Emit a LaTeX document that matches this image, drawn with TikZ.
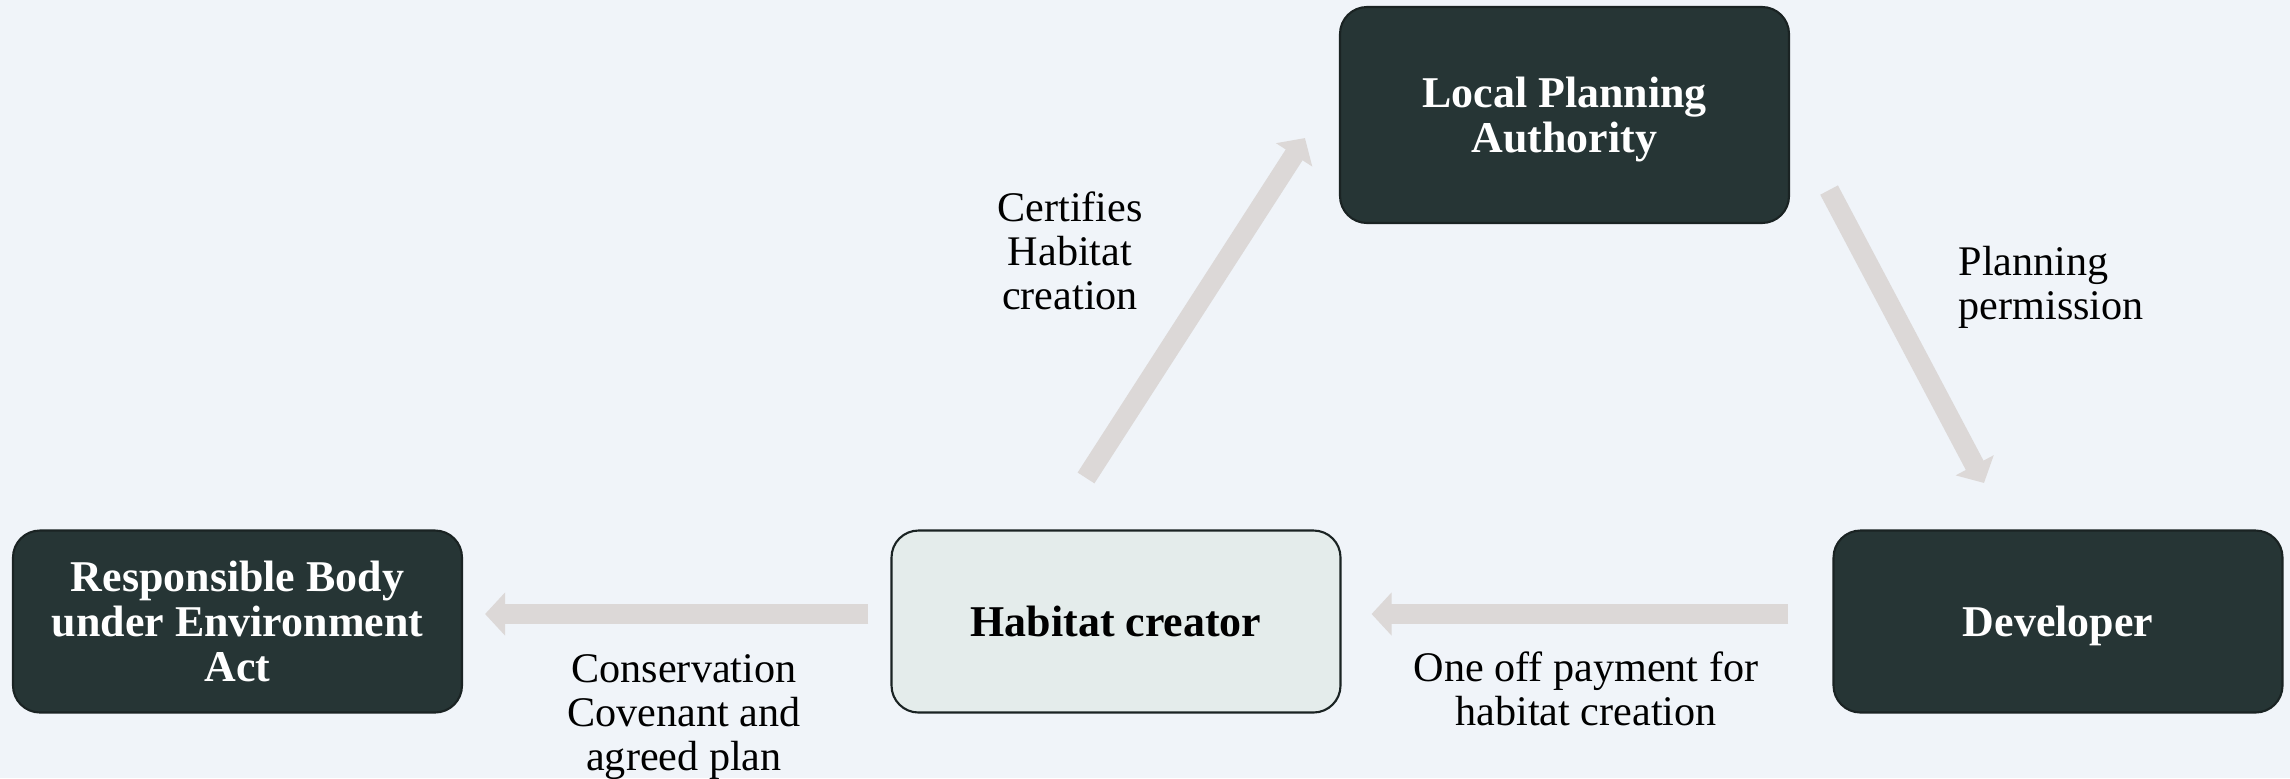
\documentclass[tikz,border=0pt]{standalone}
\usepackage{fontspec}
\setmainfont{Liberation Serif}
\usetikzlibrary{arrows.meta}
\definecolor{bgcol}{HTML}{F0F4F9}
\definecolor{darkbox}{HTML}{263535}
\definecolor{lightbox}{HTML}{E4ECEB}
\definecolor{flowgray}{HTML}{DCD8D7}
\definecolor{edgecol}{HTML}{1A2323}
\begin{document}
\begin{tikzpicture}[>={Triangle[length=2mm 0 0, width=4.2mm 0 0]}, block/.style={draw=edgecol, line width=0.6pt, rounded corners=0.27cm, rectangle, minimum width=4.49cm, minimum height=1.82cm, align=center, font=\fontsize{12.5}{12.8}\selectfont\bfseries}, dark/.style={block, fill=darkbox, text=white, text depth=0pt}, flow/.style={->, draw=flowgray, line width=0.2cm}, lbl/.style={font=\fontsize{12}{12.5}\selectfont, align=center, inner sep=0pt}]
  \fill [bgcol] (0,0) rectangle (22.9,7.78);
  \useasboundingbox (0,0) rectangle (22.9,7.78);

  \node [dark] (resp) at (2.375,1.565) {Responsible Body\\under Environment\\Act};
  \node [block, fill=lightbox] (hab) at (11.16,1.565) {Habitat creator};
  \node [dark] (dev) at (20.58,1.565) {Developer};
  \node [dark, minimum height=2.16cm] (lpa) at (15.645,6.63) {Local Planning\\Authority};

  \coordinate (habtail) at ([shift={(-0.30,0.515)}]hab.north);
  \coordinate (lpatip) at ([shift={(-0.34,0.86)}]lpa.south west);
  \coordinate (lpatail) at ([shift={(0.39,0.34)}]lpa.south east);
  \coordinate (devtip) at ([shift={(-0.74,0.465)}]dev.north);

  \draw [flow] (habtail) -- (lpatip);
  \draw [flow] (lpatail) -- (devtip);
  \draw [flow, shorten <=0.44cm, shorten >=0.30cm] ([yshift=0.075cm]dev.west) -- ([yshift=0.075cm]hab.east);
  \draw [flow, shorten <=0.22cm, shorten >=0.22cm] ([yshift=0.075cm]hab.west) -- ([yshift=0.075cm]resp.east);

  \node [lbl] (certlbl) at (10.70,5.27) {Certifies\\Habitat\\creation};
  \node [lbl, anchor=west, align=left] (planlbl) at (19.58,4.91) {Planning\\permission};
  \node [lbl] (paylbl) at (15.86,0.89) {One off payment for\\habitat creation};
  \node [lbl] (covlbl) at (6.84,0.61) {Conservation\\Covenant and\\agreed plan};
\end{tikzpicture}
\end{document}
